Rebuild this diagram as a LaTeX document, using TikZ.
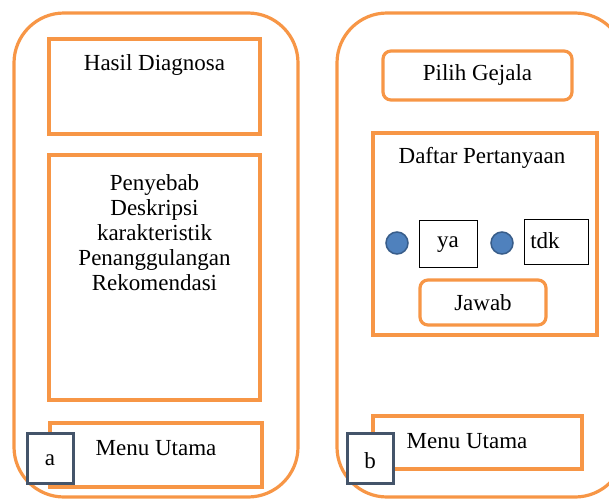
\documentclass[tikz,border=0pt]{standalone}
\usepackage{fontspec}
\setmainfont{Liberation Serif}
\definecolor{orng}{HTML}{F79646}
\definecolor{slate}{HTML}{44546A}
\definecolor{dotblue}{HTML}{4F81BD}
\definecolor{dotedge}{HTML}{385D8A}
\begin{document}
\begin{tikzpicture}[x=1pt,y=-1pt,
  panel/.style={draw=orng,line width=3.2pt,rounded corners=50pt},
  obox/.style={draw=orng,line width=3.2pt,fill=white},
  rbox/.style={draw=orng,line width=3.2pt,rounded corners=8pt,fill=white},
  kbox/.style={draw=black,line width=0.9pt,fill=white},
  tagbox/.style={draw=slate,line width=3pt,fill=white},
  dot/.style={circle,draw=dotedge,line width=1.5pt,fill=dotblue,minimum size=22pt,inner sep=0pt},
  txt/.style={font=\fontsize{23}{25}\selectfont,inner sep=0pt,align=center}]
\useasboundingbox (0,0) rectangle (609,498);
\clip (0,0) rectangle (609,498);
% panels
\draw[panel] (14,13) rectangle (298,497);
\draw[panel] (337,13) rectangle (625,497);
% left panel
\draw[obox] (49,39) rectangle (260,134);
\node[txt] (hd) at (154.5,65) {Hasil Diagnosa};
\draw[obox] (49,155) rectangle (260,400);
\node[txt] (det) at (154.5,233) {Penyebab\\Deskripsi\\karakteristik\\Penanggulangan\\Rekomendasi};
\draw[obox] (50,423) rectangle (262,487);
\node[txt] (mu1) at (156,448) {Menu Utama};
\draw[tagbox] (27,433) rectangle (73,483);
\node[txt] (ta) at (50,460) {a};
% right panel
\draw[rbox] (383,51) rectangle (572,100);
\node[txt] (pg) at (477.5,75) {Pilih Gejala};
\draw[obox] (373,133) rectangle (597,335);
\node[txt] (dp) at (482,158) {Daftar Pertanyaan};
\node[dot] (d1) at (397,243) {};
\draw[kbox] (419,220) rectangle (477,267);
\node[txt] (ya) at (448,245) {ya};
\node[dot] (d2) at (502,243) {};
\draw[kbox] (524,219) rectangle (588,264);
\node[txt] (tdk) at (545,241) {tdk};
\draw[rbox] (420,280) rectangle (546,325);
\node[txt] (jw) at (483,303) {Jawab};
\draw[obox] (373,416) rectangle (582,469);
\node[txt] (mu2) at (467,441) {Menu Utama};
\draw[tagbox] (347,433) rectangle (393,483);
\node[txt] (tb) at (370,461) {b};
\end{tikzpicture}
\end{document}
